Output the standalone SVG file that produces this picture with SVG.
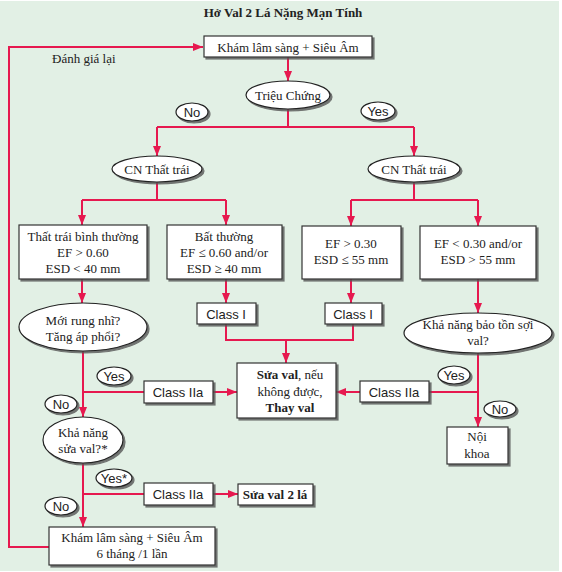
<svg xmlns="http://www.w3.org/2000/svg" width="562" height="572" viewBox="0 0 562 572">
<defs>
<style>
.bx{fill:#fff;stroke:#333;stroke-width:1.2;filter:url(#sh)}
.el{fill:#fff;stroke:#222;stroke-width:1.2;filter:url(#sh)}
.c{fill:none;stroke:#e6194f;stroke-width:2}
.a{marker-end:url(#ah)}
.t{font-family:"Liberation Serif","Times New Roman",serif;font-size:13px;fill:#222;text-anchor:middle}
.s{font-family:"Liberation Sans",Arial,sans-serif;font-size:13px;fill:#222;text-anchor:middle}
.b{font-weight:bold}
</style>
<filter id="sh" x="-20%" y="-20%" width="150%" height="160%">
<feDropShadow dx="2" dy="2" stdDeviation="0.7" flood-color="#555" flood-opacity="0.8"/>
</filter>
<marker id="ah" markerUnits="userSpaceOnUse" markerWidth="10" markerHeight="10" viewBox="0 0 10 10" refX="10" refY="5" orient="auto">
<path d="M0,1 L10,5 L0,9 Z" fill="#e6194f"/>
</marker>
</defs>
<rect x="0" y="1" width="559" height="570" fill="#e2f0e5"/>
<text x="283" y="17" class="t b" font-size="12">Hở Val 2 Lá Nặng Mạn Tính</text>
<text x="52" y="63" class="t" text-anchor="start" style="text-anchor:start">Đánh giá lại</text>

<g id="connectors">
<path class="c a" d="M49,547 H9 V47 H203"/>
<path class="c a" d="M288,57 V81"/>
<path class="c" d="M288,109 V127 M157,127 H414"/>
<path class="c a" d="M157,127 V156"/>
<path class="c a" d="M414,127 V156"/>
<path class="c" d="M157,182 V200 M82,200 H226 M414,182 V200 M351,200 H478"/>
<path class="c a" d="M82,200 V225"/>
<path class="c a" d="M226,200 V225"/>
<path class="c a" d="M351,200 V226"/>
<path class="c a" d="M478,200 V226"/>
<path class="c a" d="M82,279 V303"/>
<path class="c a" d="M226,279 V303"/>
<path class="c a" d="M351,279 V303"/>
<path class="c a" d="M478,279 V313"/>
<path class="c" d="M226,324 V340 H353 V324"/>
<path class="c a" d="M286,340 V363"/>
<path class="c a" d="M83,351 V417"/>
<path class="c" d="M83,392 H144"/>
<path class="c a" d="M213,392 H237"/>
<path class="c a" d="M478,353 V427"/>
<path class="c" d="M478,392 H429"/>
<path class="c a" d="M360,392 H336"/>
<path class="c a" d="M83,463 V527"/>
<path class="c" d="M83,494 H144"/>
<path class="c a" d="M213,494 H238"/>
</g>

<g id="kham1"><rect class="bx" x="204" y="36" width="168" height="21"/><text x="288" y="52" class="t">Khám lâm sàng + Siêu Âm</text></g>
<g id="trieuchung"><ellipse class="el" cx="288" cy="95" rx="42" ry="14"/><text x="288" y="100" class="t">Triệu Chứng</text></g>
<g id="no1"><ellipse class="el" cx="192" cy="112" rx="16" ry="9"/><text x="192" y="117" class="s">No</text></g>
<g id="yes1"><ellipse class="el" cx="378" cy="111" rx="17" ry="9"/><text x="378" y="116" class="s">Yes</text></g>
<g id="cn1"><ellipse class="el" cx="157" cy="169" rx="45" ry="13"/><text x="157" y="174" class="t">CN Thất trái</text></g>
<g id="cn2"><ellipse class="el" cx="414" cy="169" rx="46" ry="13"/><text x="414" y="174" class="t">CN Thất trái</text></g>
<g id="normal"><rect class="bx" x="19" y="225" width="128" height="54"/><text x="83" y="241" class="t">Thất trái bình thường</text><text x="83" y="257" class="t">EF &gt; 0.60</text><text x="83" y="273" class="t">ESD &lt; 40 mm</text></g>
<g id="abnormal"><rect class="bx" x="167" y="225" width="115" height="54"/><text x="224" y="241" class="t">Bất thường</text><text x="224" y="257" class="t">EF ≤ 0.60 and/or</text><text x="224" y="273" class="t">ESD ≥ 40 mm</text></g>
<g id="ef30"><rect class="bx" x="302" y="226" width="99" height="53"/><text x="351" y="248" class="t">EF &gt; 0.30</text><text x="351" y="264" class="t">ESD ≤ 55 mm</text></g>
<g id="ef30b"><rect class="bx" x="420" y="226" width="116" height="53"/><text x="478" y="248" class="t">EF &lt; 0.30 and/or</text><text x="478" y="264" class="t">ESD &gt; 55 mm</text></g>
<g id="rungnhi"><ellipse class="el" cx="83" cy="327" rx="64" ry="24"/><text x="83" y="325" class="t">Mới rung nhĩ?</text><text x="83" y="341" class="t">Tăng áp phổi?</text></g>
<g id="classI1"><rect class="bx" x="197" y="303" width="59" height="21"/><text x="226" y="319" class="s">Class I</text></g>
<g id="classI2"><rect class="bx" x="325" y="303" width="57" height="21"/><text x="353" y="319" class="s">Class I</text></g>
<g id="baoton"><ellipse class="el" cx="478" cy="333" rx="74" ry="20"/><text x="478" y="329" class="t">Khả năng bảo tồn sợi</text><text x="478" y="345" class="t">val?</text></g>
<g id="suaval"><rect class="bx" x="237" y="363" width="99" height="55"/><text x="290" y="379" class="t"><tspan class="b">Sửa val</tspan>, nếu</text><text x="290" y="396" class="t">không được,</text><text x="290" y="412" class="t b">Thay val</text></g>
<g id="yes2"><ellipse class="el" cx="114" cy="376" rx="17" ry="9"/><text x="114" y="381" class="s">Yes</text></g>
<g id="no2"><ellipse class="el" cx="61" cy="404" rx="16" ry="9"/><text x="61" y="409" class="s">No</text></g>
<g id="classIIa1"><rect class="bx" x="144" y="381" width="69" height="22"/><text x="178" y="397" class="s">Class IIa</text></g>
<g id="classIIa2"><rect class="bx" x="360" y="381" width="69" height="21"/><text x="394" y="397" class="s">Class IIa</text></g>
<g id="yes3"><ellipse class="el" cx="454" cy="375" rx="16" ry="9"/><text x="454" y="380" class="s">Yes</text></g>
<g id="no3"><ellipse class="el" cx="500" cy="409" rx="16" ry="8"/><text x="500" y="414" class="s">No</text></g>
<g id="noikhoa"><rect class="bx" x="447" y="427" width="61" height="37"/><text x="477" y="441" class="t">Nội</text><text x="477" y="458" class="t">khoa</text></g>
<g id="suavalq"><ellipse class="el" cx="83" cy="440" rx="40" ry="23"/><text x="83" y="437" class="t">Khả năng</text><text x="83" y="453" class="t">sửa val?*</text></g>
<g id="yes4"><ellipse class="el" cx="114" cy="478" rx="18" ry="9"/><text x="114" y="483" class="s">Yes*</text></g>
<g id="no4"><ellipse class="el" cx="61" cy="506" rx="16" ry="9"/><text x="61" y="511" class="s">No</text></g>
<g id="classIIa3"><rect class="bx" x="144" y="483" width="69" height="22"/><text x="178" y="499" class="s">Class IIa</text></g>
<g id="suaval2"><rect class="bx" x="238" y="484" width="75" height="21"/><text x="275" y="499" class="t b">Sửa val 2 lá</text></g>
<g id="kham2"><rect class="bx" x="49" y="527" width="166" height="38"/><text x="132" y="542" class="t">Khám lâm sàng + Siêu Âm</text><text x="132" y="558" class="t">6 tháng /1 lần</text></g>
</svg>
